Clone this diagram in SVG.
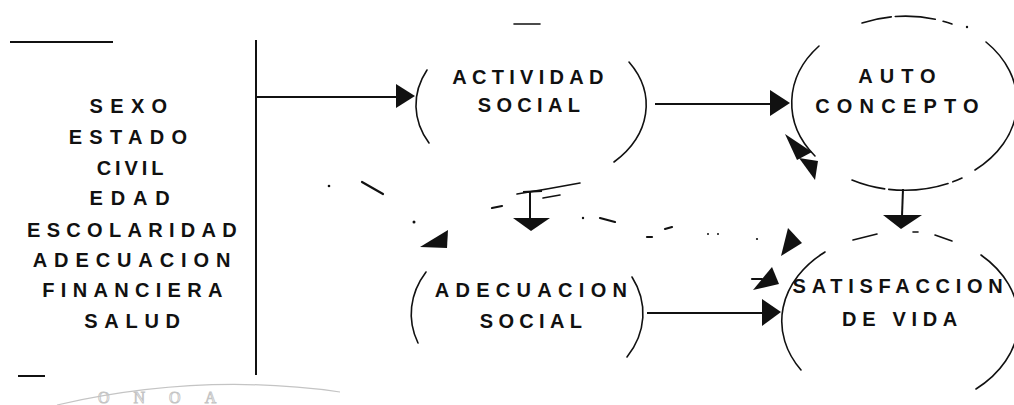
<svg xmlns="http://www.w3.org/2000/svg" width="1014" height="405" viewBox="0 0 1014 405">
<style>
.t{font-family:"Liberation Sans",Arial,Helvetica,sans-serif;font-weight:bold;font-size:20px;fill:#111;text-anchor:middle}
.arc{fill:none;stroke:#111;stroke-width:1.6;stroke-linecap:round}
.ln{fill:none;stroke:#111;stroke-width:2}
.dash{fill:none;stroke:#111;stroke-width:2.2;stroke-linecap:round}
.head{fill:#111;stroke:none}
.wm{font-family:"Liberation Serif","Times New Roman",serif;font-size:16px;fill:none;stroke:#c4c4c4;stroke-width:0.9}
</style>
<rect width="1014" height="405" fill="#ffffff"/>

<g id="watermark">
<path d="M57,405 Q200,372 340,392" fill="none" stroke="#c4c4c4" stroke-width="1.2"/>
<text class="wm" x="98" y="403" letter-spacing="24">ONOA</text>
</g>

<g id="variables">
<path class="ln" d="M10,42 L113,42" stroke-width="2.2"/>
<path class="ln" d="M18,376 L45,376" stroke-width="1.6"/>
<path class="ln" d="M256,40 L256,375"/>
<text class="t" x="132" y="113" letter-spacing="7.3">SEXO</text>
<text class="t" x="131.5" y="144" letter-spacing="7.3">ESTADO</text>
<text class="t" x="132" y="175" letter-spacing="3.9">CIVIL</text>
<text class="t" x="133.5" y="205" letter-spacing="7.8">EDAD</text>
<text class="t" x="135" y="237" letter-spacing="6.3">ESCOLARIDAD</text>
<text class="t" x="135" y="267" letter-spacing="6.9">ADECUACION</text>
<text class="t" x="135.5" y="297" letter-spacing="6.3">FINANCIERA</text>
<text class="t" x="135.5" y="328" letter-spacing="6.7">SALUD</text>
</g>

<g id="actividad-social">
<path class="arc" d="M427,70 A115,82 0 0 0 429,143"/>
<path class="arc" d="M629,62 A115,82 0 0 1 614,162"/>
<path class="arc" d="M514,24 L540,24"/>
<path class="arc" d="M517,194 Q548,189 580,183"/>
<path class="arc" d="M543,198 L560,195"/>
<text class="t" x="530.5" y="84" letter-spacing="5.3">ACTIVIDAD</text>
<text class="t" x="531.5" y="112" letter-spacing="5.3">SOCIAL</text>
</g>

<g id="auto-concepto">
<path class="arc" d="M819,46 A112,87 0 0 0 815,156"/>
<path class="arc" d="M862,23 A112,87 0 0 1 952,24" stroke-dasharray="30,4,40,8"/>
<circle cx="967" cy="27" r="1.2" fill="#111"/>
<path class="arc" d="M986,42 A112,87 0 0 1 975,170"/>
<path class="arc" d="M852,180 A112,87 0 0 0 962,178" stroke-dasharray="34,4,60,5"/>
<text class="t" x="900.5" y="83" letter-spacing="7">AUTO</text>
<text class="t" x="900.5" y="113" letter-spacing="7.2">CONCEPTO</text>
</g>

<g id="adecuacion-social">
<path class="arc" d="M426,272 A116,86 0 0 0 418,343"/>
<path class="arc" d="M632,277 A116,86 0 0 1 627,357"/>
<text class="t" x="534" y="297" letter-spacing="6.3">ADECUACION</text>
<text class="t" x="533.5" y="328" letter-spacing="5.3">SOCIAL</text>
</g>

<g id="satisfaccion-de-vida">
<path class="arc" d="M853,240 L877,234"/>
<path class="arc" d="M913,232 L918,232"/>
<path class="arc" d="M935,235 L952,241"/>
<path class="arc" d="M825,252 A117,89 0 0 0 801,370"/>
<path class="arc" d="M981,255 A117,89 0 0 1 976,389"/>
<text class="t" x="900.5" y="293" letter-spacing="5.7">SATISFACCION</text>
<text class="t" x="902.5" y="326" letter-spacing="5.7">DE VIDA</text>
</g>

<g id="connectors">
<path class="ln" d="M256,97 L397,97"/>
<polygon class="head" points="396,84 415,96 396,108"/>
<path class="ln" d="M655,104 L771,104"/>
<polygon class="head" points="770,90 790,103 770,116"/>
<path class="ln" d="M530,192 L530,219"/>
<path class="ln" d="M523,192 L542,191"/>
<polygon class="head" points="513,218 550,218 531,231"/>
<path class="ln" d="M903,189 L902,216"/>
<polygon class="head" points="883,215 922,215 901,229"/>
<path class="ln" d="M647,313 L763,313"/>
<polygon class="head" points="762,299 781,312 762,326"/>

<circle cx="329" cy="186" r="1.3" fill="#111"/>
<path class="dash" d="M362,182 L383,194"/>
<circle cx="414" cy="222" r="1.5" fill="#111"/>
<polygon class="head" points="420,247 448,230 447,248"/>
<path class="dash" d="M492,208 L502,206"/>
<circle cx="583" cy="218" r="1.2" fill="#111"/>
<path class="dash" d="M600,218 L615,222"/>
<path class="dash" d="M647,237 L652,237"/>
<path class="dash" d="M665,229 L672,227"/>
<circle cx="708" cy="234" r="1" fill="#111"/>
<circle cx="718" cy="234" r="1" fill="#111"/>
<circle cx="757" cy="239" r="1.1" fill="#111"/>
<polygon class="head" points="781,256 788,228 802,243"/>
<path class="dash" d="M752,279 L762,279" stroke-width="1.4"/>
<polygon class="head" points="753,290 772,267 779,284"/>
<polygon class="head" points="785,134 812,152 797,160"/>
<polygon class="head" points="799,158 818,161 815,180"/>
</g>
</svg>
